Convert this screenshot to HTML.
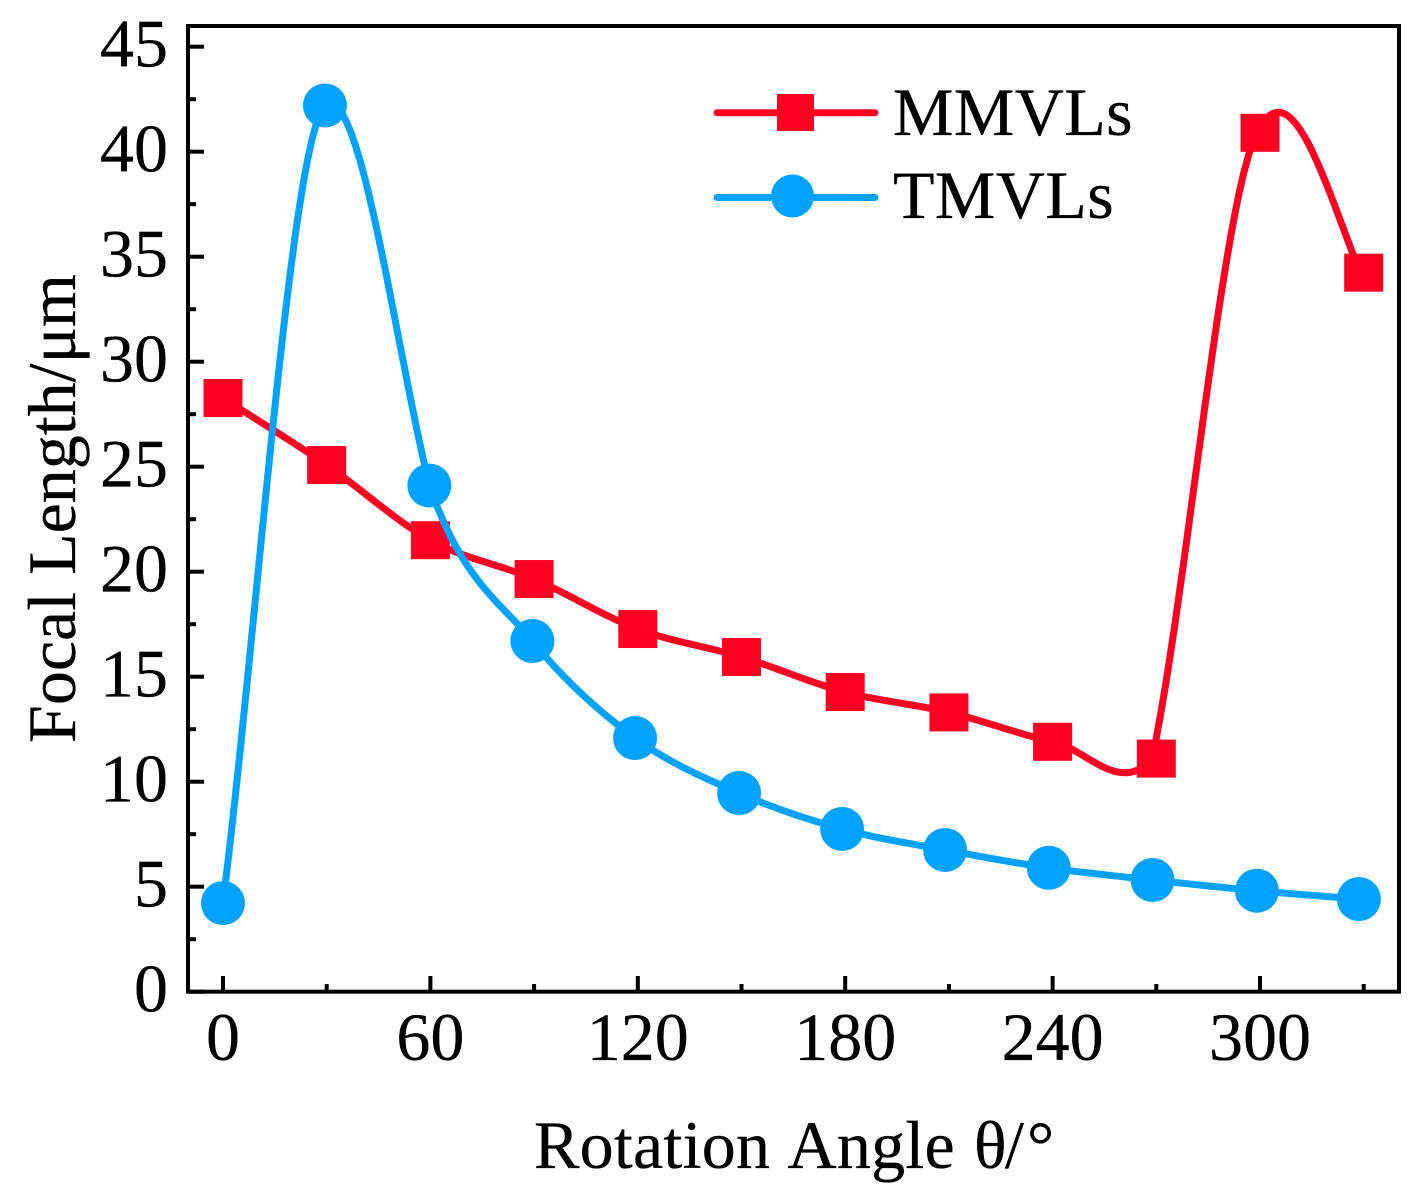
<!DOCTYPE html>
<html lang="en">
<head>
<meta charset="utf-8">
<title>Focal Length vs Rotation Angle</title>
<style>
html,body{margin:0;padding:0;background:#fff;}
svg{display:block;}
text{font-family:"Liberation Serif",serif;fill:#000;stroke:#000;stroke-width:.3;font-kerning:none;}
</style>
</head>
<body>
<svg id="chart" xmlns="http://www.w3.org/2000/svg" width="1422" height="1198" viewBox="0 0 1422 1198">
  <rect x="0" y="0" width="1422" height="1198" fill="#fff"/>
  <g id="series"></g>
  <rect x="188" y="26" width="1211" height="965.7" fill="none" stroke="#000" stroke-width="4"/>
  <g id="axes"></g>
  <text x="534" y="1168" font-size="68" letter-spacing=".25">Rotation Angle <tspan x="974">θ</tspan><tspan x="1005">/</tspan><tspan x="1027">°</tspan></text>
  <text transform="translate(75,743) rotate(-90)" font-size="68">Focal Length/μm</text>
  <g>
    <g>
      <line x1="717" y1="112.7" x2="875" y2="112.7" stroke="#ff0022" stroke-width="7" stroke-linecap="round"/>
      <rect x="777" y="94" width="37" height="37" fill="#ff0022"/>
      <text x="893" y="135" font-size="68" letter-spacing=".4">MMVLs</text>
    </g>
    <g>
      <line x1="717" y1="197.5" x2="875" y2="197.5" stroke="#00a2ff" stroke-width="7" stroke-linecap="round"/>
      <circle cx="792.5" cy="196" r="21.5" fill="#00a2ff"/>
      <text x="893" y="218" font-size="68" letter-spacing=".4">TMVLs</text>
    </g>
  </g>
</svg>
<script>
const mmvlsAngles = [0, 30, 60, 90, 120, 150, 180, 210, 240, 270, 300, 330];
const mmvlsCurveAngles = [0, 30, 60, 90, 120, 150, 180, 210, 240, 268.8, 299.1, 329];
const mmvlsValues = [28.27, 25.08, 21.5, 19.65, 17.27, 15.94, 14.27, 13.3, 11.9, 11.1, 40.9, 34.24];
const mmvlsSmoothIn = [1, 1, 1, 1, 1, 1, 1, 1, 1, 0.38, 0.85, 1.85];
const mmvlsSmoothOut = [1, 1, 1, 1, 1, 1, 1, 1, 0.8, 1.6, 0.87, 1];
const tmvlsAngles = [0, 29.5, 59.7, 89.5, 119.2, 149.3, 179.1, 208.9, 238.9, 268.9, 299.1, 328.6];
const tmvlsValues = [4.22, 42.2, 24.1, 16.7, 12.08, 9.46, 7.75, 6.75, 5.9, 5.32, 4.81, 4.41];
const tmvlsSmoothIn = [1, 0.5, 1.6, 1, 1, 1, 1, 1, 1, 1, 1, 1];
const tmvlsSmoothOut = [1.02, 0.4, 1.1, 1, 1, 1, 1, 1, 1, 1, 1, 1];
const xMajorTicks = [0, 60, 120, 180, 240, 300];
const xMinorTicks = [30, 90, 150, 210, 270, 330];
const yMajorTicks = [0, 5, 10, 15, 20, 25, 30, 35, 40, 45];
const yMinorTicks = [2.5, 7.5, 12.5, 17.5, 22.5, 27.5, 32.5, 37.5, 42.5];

const NS = 'http://www.w3.org/2000/svg';
function xScale(v) { return 223 + v * 3.4567; }
function yScale(v) { return 991.7 - v * 21; }

function make(parent, tag, attrs) {
  const el = document.createElementNS(NS, tag);
  for (const k in attrs) el.setAttribute(k, attrs[k]);
  parent.appendChild(el);
  return el;
}

function centralSlope(xs, ys, i) {
  const a = Math.max(i - 1, 0);
  const b = Math.min(i + 1, xs.length - 1);
  return (ys[b] - ys[a]) / (xs[b] - xs[a]);
}

function smoothPath(xs, ys, kIn, kOut) {
  let path = 'M' + xScale(xs[0]).toFixed(1) + ' ' + yScale(ys[0]).toFixed(1);
  for (let i = 0; i < xs.length - 1; i++) {
    const h = xs[i + 1] - xs[i];
    const m0 = centralSlope(xs, ys, i) * kOut[i];
    const m1 = centralSlope(xs, ys, i + 1) * kIn[i + 1];
    for (let s = 1; s <= 24; s++) {
      const t = s / 24;
      const t2 = t * t;
      const t3 = t2 * t;
      const v = (2 * t3 - 3 * t2 + 1) * ys[i] + (t3 - 2 * t2 + t) * h * m0 +
        (3 * t2 - 2 * t3) * ys[i + 1] + (t3 - t2) * h * m1;
      path += 'L' + xScale(xs[i] + t * h).toFixed(1) + ' ' + yScale(v).toFixed(1);
    }
  }
  return path;
}

const series = document.getElementById('series');
const axes = document.getElementById('axes');

const redCurve = make(series, 'path', {d: smoothPath(mmvlsCurveAngles, mmvlsValues, mmvlsSmoothIn, mmvlsSmoothOut), fill: 'none', stroke: '#ff0022', 'stroke-width': 7, 'stroke-linejoin': 'round'});



mmvlsAngles.forEach(function (a, i) {
  const cx = xScale(a);
  const cy = yScale(mmvlsValues[i]);
  const sq = make(series, 'rect', {x: cx - 19.5, y: cy - 19, width: 39, height: 38, fill: '#ff0022'});
  
  
});

const blueCurve = make(series, 'path', {d: smoothPath(tmvlsAngles, tmvlsValues, tmvlsSmoothIn, tmvlsSmoothOut), fill: 'none', stroke: '#00a2ff', 'stroke-width': 7, 'stroke-linejoin': 'round'});



tmvlsAngles.forEach(function (a, i) {
  const dot = make(series, 'circle', {cx: xScale(a), cy: yScale(tmvlsValues[i]), r: 22, fill: '#00a2ff'});
  
  
});

xMajorTicks.forEach(function (v) {
  const x = xScale(v);
  const tick = make(axes, 'line', {x1: x, y1: 991.7, x2: x, y2: 976, stroke: '#000', 'stroke-width': 4});
  
  
  const label = make(axes, 'text', {x: x, y: 1060, 'text-anchor': 'middle', 'font-size': 68});
  label.textContent = String(v);
  
  
});

xMinorTicks.forEach(function (v) {
  const x = xScale(v);
  const tick = make(axes, 'line', {x1: x, y1: 991.7, x2: x, y2: 984, stroke: '#000', 'stroke-width': 4});
  
  
});

yMajorTicks.forEach(function (v) {
  const y = yScale(v);
  const tick = make(axes, 'line', {x1: 188, y1: y, x2: 204, y2: y, stroke: '#000', 'stroke-width': 4});
  
  
  const label = make(axes, 'text', {x: 168, y: y + 20, 'text-anchor': 'end', 'font-size': 68});
  label.textContent = String(v);
  
  
});

yMinorTicks.forEach(function (v) {
  const y = yScale(v);
  const tick = make(axes, 'line', {x1: 188, y1: y, x2: 196, y2: y, stroke: '#000', 'stroke-width': 4});
  
  
});
</script>
</body>
</html>
